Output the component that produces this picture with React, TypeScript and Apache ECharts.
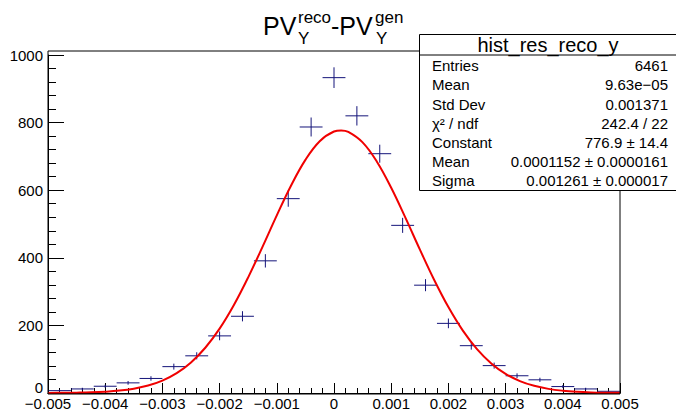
import React, { useEffect, useRef } from "react";
import * as echarts from "echarts";

// Histogram bins (centres) and counts
const binCenters = [
  -0.0048, -0.0044, -0.004, -0.0036, -0.0032, -0.0028, -0.0024, -0.002, -0.0016, -0.0012,
  -0.0008, -0.0004, 0, 0.0004, 0.0008, 0.0012, 0.0016, 0.002, 0.0024, 0.0028,
  0.0032, 0.0036, 0.004, 0.0044, 0.0048,
];
const counts = [
  7, 12, 20, 30, 43, 78, 110, 169, 227, 391,
  575, 787, 933, 820, 708, 496, 319, 206, 140, 81,
  51, 39, 19, 12, 5,
];
const binWidth = 0.0004;

// Fit curve (red)
const fitX = [
  -0.005, -0.00475, -0.0045, -0.00425, -0.004, -0.00375, -0.0035, -0.00325, -0.003, -0.00275,
  -0.0025, -0.00225, -0.002, -0.00175, -0.0015, -0.00125, -0.001, -0.00075, -0.0005, -0.00025,
  0, 0.000125, 0.00025, 0.0005, 0.00075, 0.001, 0.00125, 0.0015, 0.00175, 0.002, 0.00225,
  0.0025, 0.00275, 0.003, 0.00325, 0.0035, 0.00375, 0.004, 0.00425, 0.0045, 0.00475, 0.005,
];
const fitY = [
  0.2, 0.5, 1.0, 1.9, 3.8, 7.1, 12.8, 22.1, 36.8, 58.8,
  90.5, 133.9, 190.3, 260.3, 342.2, 432.4, 525.6, 614.0, 689.8, 745.0,
  773.7, 776.9, 772.5, 741.6, 684.4, 607.3, 518.1, 425.0, 335.2, 254.2, 185.3,
  129.9, 87.6, 56.7, 35.3, 21.2, 12.2, 6.8, 3.6, 1.8, 0.9, 0.4,
];

// Axis ticks
const xMin = -0.005;
const xMax = 0.005;
const xInterval = 0.001;
const yMin = 0;
const yMax = 1000;
const yInterval = 200;

// Stats box
const statsTitle = "hist_res_reco_y";
const statsLabels = ["Entries", "Mean", "Std Dev", "χ² / ndf", "Constant", "Mean", "Sigma"];
const statsValues = [
  "6461",
  "9.63e−05",
  "0.001371",
  "242.4 / 22",
  "776.9 ± 14.4",
  "0.0001152 ± 0.0000161",
  "0.001261 ± 0.000017",
];

const FONT = "'Liberation Sans', Arial, Helvetica, sans-serif";
const MARK = "#14147a";

export default function App() {
  const ref = useRef<HTMLDivElement>(null);

  useEffect(() => {
    if (!ref.current) return;
    const chart = echarts.init(ref.current, null, { renderer: "svg" });

    const histData = binCenters.map((c, i) => [c, counts[i], Math.sqrt(counts[i])]);
    const fitData = fitX.map((x, i) => [x, fitY[i]]);

    const rowY0 = 65.7;
    const rowStep = 19.15;
    const statsChildren: any[] = [];
    statsLabels.forEach((lab, i) => {
      statsChildren.push({
        type: "text",
        x: 432,
        y: rowY0 + i * rowStep,
        z: 101,
        style: { text: lab, fontSize: 15, fontFamily: FONT, fill: "#000", align: "left", verticalAlign: "middle" },
      });
      statsChildren.push({
        type: "text",
        x: 668,
        y: rowY0 + i * rowStep,
        z: 101,
        style: { text: statsValues[i], fontSize: 15, fontFamily: FONT, fill: "#000", align: "right", verticalAlign: "middle" },
      });
    });

    const titleStyle = (text: string, size: number) => ({
      text,
      fontSize: size,
      fontFamily: FONT,
      fill: "#000",
      align: "left",
      verticalAlign: "middle",
    });

    chart.setOption({
      animation: false,
      backgroundColor: "#fff",
      grid: { left: 48, right: 56, top: 55, bottom: 17, containLabel: false },
      xAxis: {
        type: "value",
        min: xMin,
        max: xMax,
        interval: xInterval,
        axisLine: { show: true, onZero: false, lineStyle: { color: "#000", width: 1 } },
        axisTick: { show: true, inside: true, length: 10, lineStyle: { color: "#000" } },
        minorTick: { show: true, splitNumber: 5, length: 5, lineStyle: { color: "#000" } },
        splitLine: { show: false },
        axisLabel: {
          margin: 3,
          fontSize: 15,
          fontFamily: FONT,
          color: "#000",
          formatter: (v: number) => {
            if (Math.abs(v) < 1e-12) return "0";
            return (v < 0 ? "−" : "") + Math.abs(v).toFixed(3);
          },
        },
      },
      yAxis: {
        type: "value",
        min: yMin,
        max: yMax,
        interval: yInterval,
        axisLine: { show: true, onZero: false, lineStyle: { color: "#000", width: 1 } },
        axisTick: { show: true, inside: true, length: 16, lineStyle: { color: "#000" } },
        minorTick: { show: true, splitNumber: 5, length: 8, lineStyle: { color: "#000" } },
        splitLine: { show: false },
        axisLabel: {
          margin: 5,
          fontSize: 15,
          fontFamily: FONT,
          color: "#000",
          formatter: (v: number) => {
            const n = Math.round(v);
            return n === 0 ? "{z|0}" : String(n);
          },
          rich: {
            z: { fontSize: 15, fontFamily: FONT, color: "#000", padding: [0, 0, 12, 0] },
          },
        },
      },
      series: [
        {
          type: "custom",
          z: 2,
          clip: true,
          data: histData,
          renderItem: (params: any, api: any) => {
            const x = api.value(0);
            const y = api.value(1);
            const e = api.value(2);
            const l = api.coord([x - binWidth / 2, y]);
            const r = api.coord([x + binWidth / 2, y]);
            const t = api.coord([x, y + e]);
            const b = api.coord([x, Math.max(0, y - e)]);
            return {
              type: "group",
              children: [
                { type: "line", shape: { x1: l[0], y1: l[1], x2: r[0], y2: r[1] }, style: { stroke: MARK, lineWidth: 1 } },
                { type: "line", shape: { x1: t[0], y1: t[1], x2: b[0], y2: b[1] }, style: { stroke: MARK, lineWidth: 1 } },
              ],
            };
          },
        },
        {
          type: "line",
          z: 3,
          data: fitData,
          smooth: 0.4,
          showSymbol: false,
          symbol: "none",
          lineStyle: { color: "#f00000", width: 2 },
        },
      ],
      graphic: [
        // plot frame
        {
          type: "rect",
          z: 50,
          shape: { x: 48, y: 51, width: 572, height: 343 },
          style: { fill: "none", stroke: "#000", lineWidth: 1 },
          silent: true,
        },
        // title
        { type: "text", x: 263, y: 26.3, z: 60, style: titleStyle("PV", 25) },
        { type: "text", x: 298, y: 17.1, z: 60, style: titleStyle("reco", 17) },
        { type: "text", x: 298, y: 38.2, z: 60, style: titleStyle("Y", 17) },
        { type: "text", x: 331, y: 26.3, z: 60, style: titleStyle("-PV", 25) },
        { type: "text", x: 375, y: 17.1, z: 60, style: titleStyle("gen", 17) },
        { type: "text", x: 376, y: 38.2, z: 60, style: titleStyle("Y", 17) },
        // stats box
        {
          type: "rect",
          z: 100,
          shape: { x: 419.5, y: 34.5, width: 262, height: 156 },
          style: { fill: "#fff", stroke: "#000", lineWidth: 1 },
        },
        {
          type: "line",
          z: 101,
          shape: { x1: 419.5, y1: 55, x2: 676, y2: 55 },
          style: { stroke: "#000", lineWidth: 1 },
        },
        {
          type: "text",
          x: 548,
          y: 45,
          z: 101,
          style: { text: statsTitle, fontSize: 20, fontFamily: FONT, fill: "#000", align: "center", verticalAlign: "middle" },
        },
        ...statsChildren,
      ],
    });

    return () => chart.dispose();
  }, []);

  return (
    <div
      ref={ref}
      style={{ position: "fixed", left: 0, top: 0, width: 676, height: 411 }}
    />
  );
}
